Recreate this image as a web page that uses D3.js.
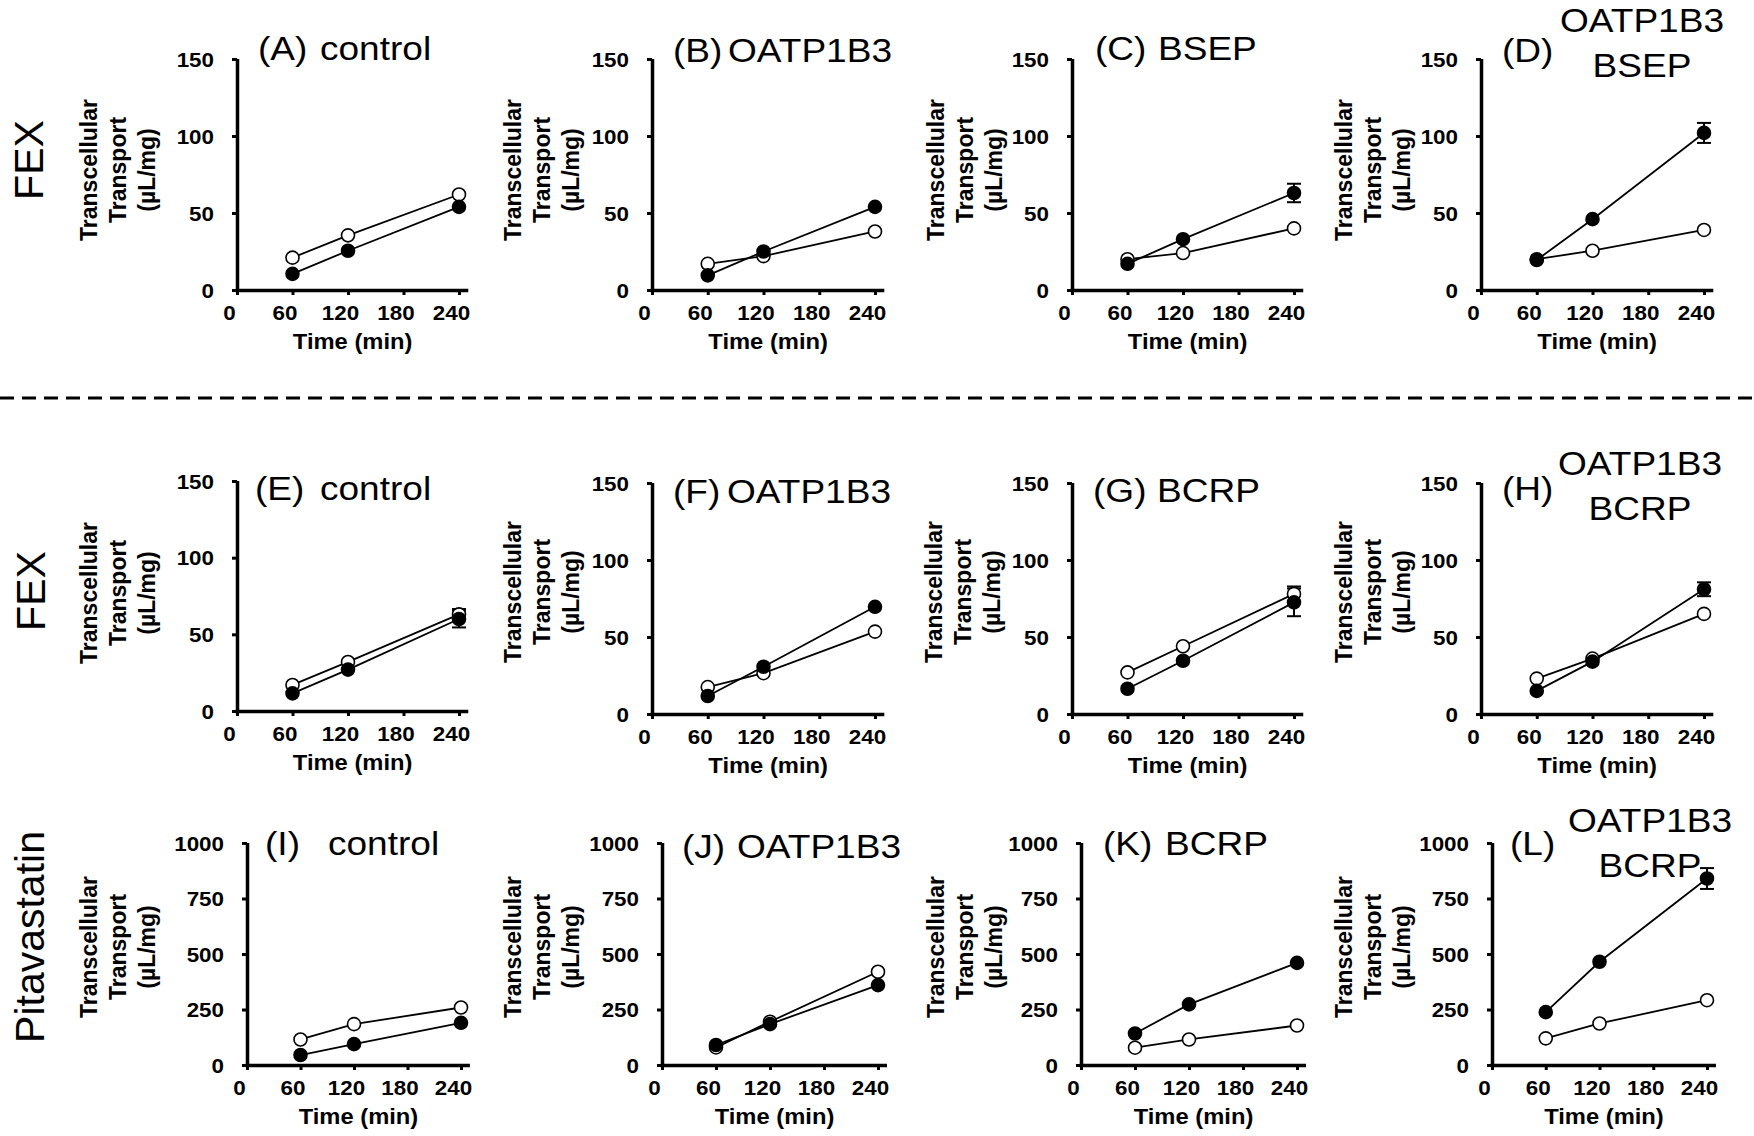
<!DOCTYPE html>
<html>
<head>
<meta charset="utf-8">
<script src="https://cdn.jsdelivr.net/npm/d3@7"></script>
<style>
  html, body { margin: 0; padding: 0; background: #fff; }
  svg { display: block; }
  text { font-family: "Liberation Sans", Arial, Helvetica, sans-serif; fill: #000; }
</style>
</head>
<body>
<svg id="chart" width="1754" height="1136"></svg>
<script>
// ---------------- DATA ----------------
const times = [60, 120, 240];
const xTicks = [0, 60, 120, 180, 240];
const yTicksFex = [0, 50, 100, 150];
const yTicksPita = [0, 250, 500, 750, 1000];
const rowLabels = ["FEX", "FEX", "Pitavastatin"];
const panelLetters = ["(A)", "(B)", "(C)", "(D)", "(E)", "(F)", "(G)", "(H)", "(I)", "(J)", "(K)", "(L)"];
const panelNames = [
  ["control"], ["OATP1B3"], ["BSEP"], ["OATP1B3", "BSEP"],
  ["control"], ["OATP1B3"], ["BCRP"], ["OATP1B3", "BCRP"],
  ["control"], ["OATP1B3"], ["BCRP"], ["OATP1B3", "BCRP"]
];
const yMaxima = [150, 150, 150, 150, 150, 150, 150, 150, 1000, 1000, 1000, 1000];
// open circles
const openValues = [
  [21, 35.5, 62], [17, 22, 38], [20, 24, 40], [20, 25.5, 39],
  [17, 32, 63], [17.5, 26.5, 53.5], [27, 44, 78], [23, 36, 65],
  [115, 184, 259], [79, 195, 420], [78, 115, 178], [120, 187, 292]
];
const openErrors = [
  [0, 0, 0], [0, 0, 0], [0, 0, 0], [0, 0, 0],
  [0, 0, 3.5], [0, 0, 0], [0, 0, 4.8], [0, 0, 0],
  [0, 0, 0], [0, 0, 0], [0, 0, 0], [0, 0, 0]
];
// filled circles
const closedValues = [
  [10.5, 25.5, 54], [9.5, 25, 54], [17, 33, 63], [19.5, 46, 102],
  [11.5, 27, 60], [11.7, 30.7, 69.6], [16.4, 34.6, 72.5], [15, 34, 81],
  [45, 94, 190], [90, 184, 360], [142, 273, 460], [238, 465, 840]
];
const closedErrors = [
  [0, 0, 0], [0, 0, 0], [0, 0, 6], [0, 0, 6.5],
  [0, 0, 5.5], [0, 0, 0], [0, 0, 9], [0, 0, 4.5],
  [0, 0, 0], [0, 0, 0], [0, 0, 0], [0, 0, 47]
];

// ---------------- LAYOUT ----------------
const layout = [
  {x0: 237, x240: 459, yTop: 59, yBot: 290, lx: 97, ly: 170, t1x: 258, t2x: 320, ty: 60, tc: 0},
  {x0: 652, x240: 875, yTop: 59, yBot: 290, lx: 521, ly: 170, t1x: 673, t2x: 728, ty: 62, tc: 0},
  {x0: 1072, x240: 1294, yTop: 59, yBot: 290, lx: 944, ly: 170, t1x: 1095, t2x: 1158, ty: 60, tc: 0},
  {x0: 1481, x240: 1704, yTop: 59, yBot: 290, lx: 1352, ly: 170, t1x: 1502, ty: 62, tc: 1642, tl: [32, 77]},
  {x0: 237, x240: 459, yTop: 481, yBot: 711, lx: 97, ly: 593, t1x: 255, t2x: 320, ty: 500, tc: 0},
  {x0: 652, x240: 875, yTop: 483, yBot: 714, lx: 521, ly: 592, t1x: 673, t2x: 727, ty: 503, tc: 0},
  {x0: 1072, x240: 1294, yTop: 483, yBot: 714, lx: 942, ly: 592, t1x: 1093, t2x: 1157, ty: 502, tc: 0},
  {x0: 1481, x240: 1704, yTop: 483, yBot: 714, lx: 1352, ly: 592, t1x: 1502, ty: 500, tc: 1640, tl: [475, 520]},
  {x0: 247, x240: 461, yTop: 843, yBot: 1065, lx: 97, ly: 947, t1x: 265, t2x: 328, ty: 855, tc: 0},
  {x0: 662, x240: 878, yTop: 843, yBot: 1065, lx: 521, ly: 947, t1x: 682, t2x: 737, ty: 858, tc: 0},
  {x0: 1081, x240: 1297, yTop: 843, yBot: 1065, lx: 944, ly: 947, t1x: 1103, t2x: 1165, ty: 855, tc: 0},
  {x0: 1492, x240: 1707, yTop: 843, yBot: 1065, lx: 1352, ly: 947, t1x: 1510, ty: 855, tc: 1650, tl: [832, 877]}
];
const rowLabelPos = [{x: 43, y: 160}, {x: 45, y: 591}, {x: 44, y: 937}];

const svg = d3.select("#chart");
svg.append("rect").attr("width", 1754).attr("height", 1136).attr("fill", "#fff");

// dashed separator
svg.append("line")
  .attr("x1", 0).attr("x2", 1754).attr("y1", 398).attr("y2", 398)
  .attr("stroke", "#000").attr("stroke-width", 3)
  .attr("stroke-dasharray", "14,8");

// row labels
rowLabels.forEach((t, i) => {
  const p = rowLabelPos[i];
  svg.append("text")
    .attr("transform", `translate(${p.x},${p.y}) rotate(-90)`)
    .attr("text-anchor", "middle")
    .style("font-size", "41px")
    .text(t);
});

const TICK_SX = 1.12;

layout.forEach((L, i) => {
  const g = svg.append("g");
  const xMaxPx = L.x0 + (L.x240 - L.x0) * 250 / 240;
  const x = d3.scaleLinear().domain([0, 250]).range([L.x0, xMaxPx]);
  const y = d3.scaleLinear().domain([0, yMaxima[i]]).range([L.yBot, L.yTop]);
  const yTicks = yMaxima[i] === 150 ? yTicksFex : yTicksPita;

  // Y axis
  const ya = g.append("g").attr("transform", `translate(${L.x0},0)`)
    .call(d3.axisLeft(y).tickValues(yTicks).tickSize(5).tickSizeOuter(0).tickFormat(d3.format("d")));
  ya.select(".domain").attr("stroke-width", 3.5).attr("d", `M0.5,${L.yBot + 1.75}V${L.yTop}`);
  ya.selectAll(".tick line").attr("stroke-width", 3);
  ya.selectAll(".tick text")
    .attr("x", -23 / TICK_SX)
    .attr("dy", "0.35em")
    .attr("transform", `scale(${TICK_SX},1)`)
    .style("font-size", "20px").style("font-weight", "bold").style("font-family", "'Liberation Sans', Arial, sans-serif");

  // X axis
  const xa = g.append("g").attr("transform", `translate(0,${L.yBot})`)
    .call(d3.axisBottom(x).tickValues(xTicks).tickSize(5).tickSizeOuter(0).tickFormat(d3.format("d")));
  xa.select(".domain").attr("stroke-width", 3.5).attr("d", `M${L.x0 - 1.5},0.5H${xMaxPx}`);
  xa.selectAll(".tick line").attr("stroke-width", 3);
  xa.selectAll(".tick text")
    .attr("y", 30).attr("dy", 0)
    .attr("x", -8 / TICK_SX)
    .attr("transform", `scale(${TICK_SX},1)`)
    .style("font-size", "20px").style("font-weight", "bold").style("font-family", "'Liberation Sans', Arial, sans-serif");

  // X title
  g.append("text")
    .attr("transform", `translate(${(L.x0 + xMaxPx) / 2},${L.yBot + 59}) scale(1.08,1)`)
    .attr("text-anchor", "middle")
    .style("font-size", "22px").style("font-weight", "bold")
    .text("Time (min)");

  // Y title (3 lines)
  const yt = g.append("text")
    .attr("transform", `translate(${L.lx},${L.ly}) rotate(-90)`)
    .attr("text-anchor", "middle")
    .style("font-size", "23px").style("font-weight", "bold");
  ["Transcellular", "Transport", "(\u00b5L/mg)"].forEach((s, k) => {
    yt.append("tspan").attr("x", 0).attr("y", k * 29).text(s);
  });

  // Panel title
  g.append("text")
    .attr("transform", `translate(${L.t1x},${L.ty}) scale(1.09,1)`)
    .style("font-size", "34px")
    .text(panelLetters[i]);
  const names = panelNames[i];
  if (names.length === 1) {
    g.append("text")
      .attr("transform", `translate(${L.t2x},${L.ty}) scale(1.09,1)`)
      .style("font-size", "34px")
      .text(names[0]);
  } else {
    names.forEach((s, k) => {
      g.append("text")
        .attr("transform", `translate(${L.tc},${L.tl[k]}) scale(1.09,1)`)
        .attr("text-anchor", "middle")
        .style("font-size", "34px")
        .text(s);
    });
  }

  const line = d3.line().x((d, k) => x(times[k])).y(d => y(d));
  const series = [
    {vals: openValues[i], errs: openErrors[i], fill: "#fff"},
    {vals: closedValues[i], errs: closedErrors[i], fill: "#000"}
  ];
  // lines first
  series.forEach(s => {
    g.append("path").datum(s.vals).attr("d", line)
      .attr("fill", "none").attr("stroke", "#000").attr("stroke-width", 1.8);
  });
  // error bars
  series.forEach(s => {
    s.vals.forEach((v, k) => {
      const e = s.errs[k];
      if (!e) return;
      const cx = x(times[k]);
      const eg = g.append("g").attr("stroke", "#000").attr("stroke-width", 2);
      eg.append("line").attr("x1", cx).attr("x2", cx).attr("y1", y(v - e)).attr("y2", y(v + e));
      eg.append("line").attr("x1", cx - 7).attr("x2", cx + 7).attr("y1", y(v + e)).attr("y2", y(v + e));
      eg.append("line").attr("x1", cx - 7).attr("x2", cx + 7).attr("y1", y(v - e)).attr("y2", y(v - e));
    });
  });
  // markers
  series.forEach(s => {
    g.selectAll(null).data(s.vals).enter().append("circle")
      .attr("cx", (d, k) => x(times[k]))
      .attr("cy", d => y(d))
      .attr("r", 6.5)
      .attr("fill", s.fill)
      .attr("stroke", "#000").attr("stroke-width", 1.6);
  });
});
</script>
</body>
</html>
